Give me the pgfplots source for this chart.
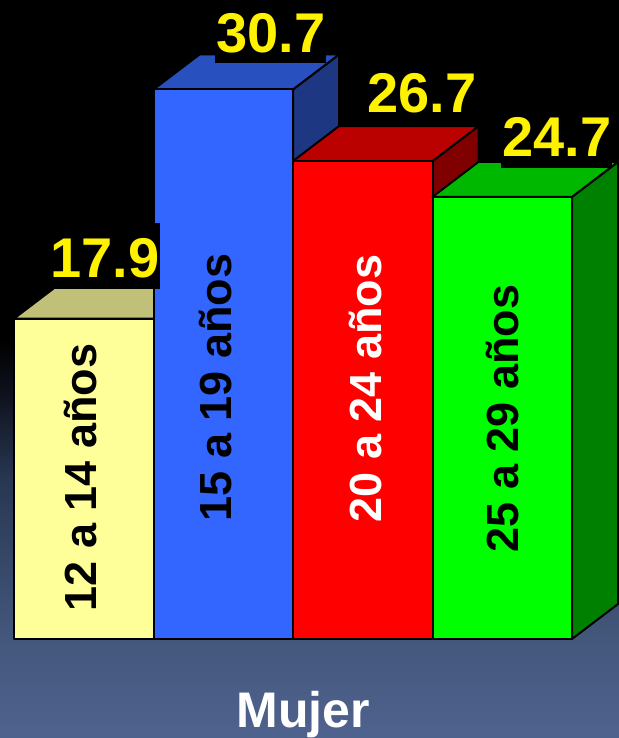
\documentclass[border=0pt]{standalone}
\usepackage{fontspec}
\setmainfont{Liberation Sans}
\usepackage{pgfplots}
\pgfplotsset{compat=1.18}
\definecolor{bgA}{RGB}{78,98,142}
\definecolor{bgB}{RGB}{68,88,125}
\definecolor{bgC}{RGB}{40,55,82}
\definecolor{bgD}{RGB}{16,20,32}
\pgfdeclareverticalshading{bgshade}{100bp}{color(0bp)=(bgA); color(25bp)=(bgA); color(31.65bp)=(bgB); color(42.5bp)=(bgC); color(48bp)=(bgD); color(52bp)=(black); color(100bp)=(black)}
\definecolor{yF}{RGB}{255,255,153}
\definecolor{yT}{RGB}{192,192,120}
\definecolor{yS}{RGB}{143,143,92}
\definecolor{bF}{RGB}{51,102,255}
\definecolor{bT}{RGB}{40,80,190}
\definecolor{bS}{RGB}{30,55,130}
\definecolor{rF}{RGB}{255,0,0}
\definecolor{rT}{RGB}{187,0,0}
\definecolor{rS}{RGB}{128,0,0}
\definecolor{gF}{RGB}{0,255,0}
\definecolor{gT}{RGB}{0,184,0}
\definecolor{gS}{RGB}{0,128,0}
\begin{document}
\begin{tikzpicture}
\begin{axis}[width=309.5pt, height=369pt, scale only axis,
  xmin=-0.1004, xmax=4.3369, ymin=-5.531, ymax=35.698,
  axis lines=none, ticks=none, clip=false]
\path[shading=bgshade] (rel axis cs:0,0) rectangle (rel axis cs:1,1);
\coordinate (bbSW) at (rel axis cs:0,0);
\coordinate (bbNE) at (rel axis cs:1,1);
\pgfplotsset{every axis plot/.append style={draw=black, line width=1pt, line join=round}}
% bar 1: 12 a 14 anos, 17.9
\addplot[fill=yS] coordinates {(1,0) (1.33,1.955) (1.33,19.855) (1,17.9)} -- cycle;
\addplot[fill=yT] coordinates {(0,17.9) (1,17.9) (1.33,19.855) (0.33,19.855)} -- cycle;
\addplot[fill=yF] coordinates {(0,0) (1,0) (1,17.9) (0,17.9)} -- cycle;
% bar 2: 15 a 19 anos, 30.7
\addplot[fill=bS] coordinates {(2,0) (2.33,1.955) (2.33,32.655) (2,30.7)} -- cycle;
\addplot[fill=bT] coordinates {(1,30.7) (2,30.7) (2.33,32.655) (1.33,32.655)} -- cycle;
\addplot[fill=bF] coordinates {(1,0) (2,0) (2,30.7) (1,30.7)} -- cycle;
% bar 3: 20 a 24 anos, 26.7
\addplot[fill=rS] coordinates {(3,0) (3.33,1.955) (3.33,28.655) (3,26.7)} -- cycle;
\addplot[fill=rT] coordinates {(2,26.7) (3,26.7) (3.33,28.655) (2.33,28.655)} -- cycle;
\addplot[fill=rF] coordinates {(2,0) (3,0) (3,26.7) (2,26.7)} -- cycle;
% bar 4: 25 a 29 anos, 24.7
\addplot[fill=gS] coordinates {(4,0) (4.33,1.955) (4.33,26.655) (4,24.7)} -- cycle;
\addplot[fill=gT] coordinates {(3,24.7) (4,24.7) (4.33,26.655) (3.33,26.655)} -- cycle;
\addplot[fill=gF] coordinates {(3,0) (4,0) (4,24.7) (3,24.7)} -- cycle;
% category labels inside bars
\tikzset{cat/.style={rotate=90, font=\fontsize{22.5}{24}\selectfont\bfseries}}
\node[cat, text=black] at (axis cs:0.48,9.02) {12 a 14 años};
\node[cat, text=black] at (axis cs:1.448,14.05) {15 a 19 años};
\node[cat, text=white] at (axis cs:2.523,13.99) {20 a 24 años};
\node[cat, text=black] at (axis cs:3.502,12.32) {25 a 29 años};
% value labels
\tikzset{val/.style={fill=black, text=yellow, inner sep=0pt, inner xsep=0.5pt, text height=27.5pt, text depth=5.5pt, anchor=base, font=\fontsize{28}{30}\selectfont\bfseries}}
\node[val] at (axis cs:0.652,20.17) {17.9};
\node[val] at (axis cs:1.842,32.79) {30.7};
\node[val] at (axis cs:2.925,29.44) {26.7};
\node[val] at (axis cs:3.892,26.93) {24.7};
% group label
\node[anchor=base, text=white, font=\fontsize{25}{28}\selectfont\bfseries] at (axis cs:2.072,-4.97) {Mujer};
\end{axis}
\pgfresetboundingbox
\useasboundingbox (bbSW) rectangle (bbNE);
\end{tikzpicture}
\end{document}
